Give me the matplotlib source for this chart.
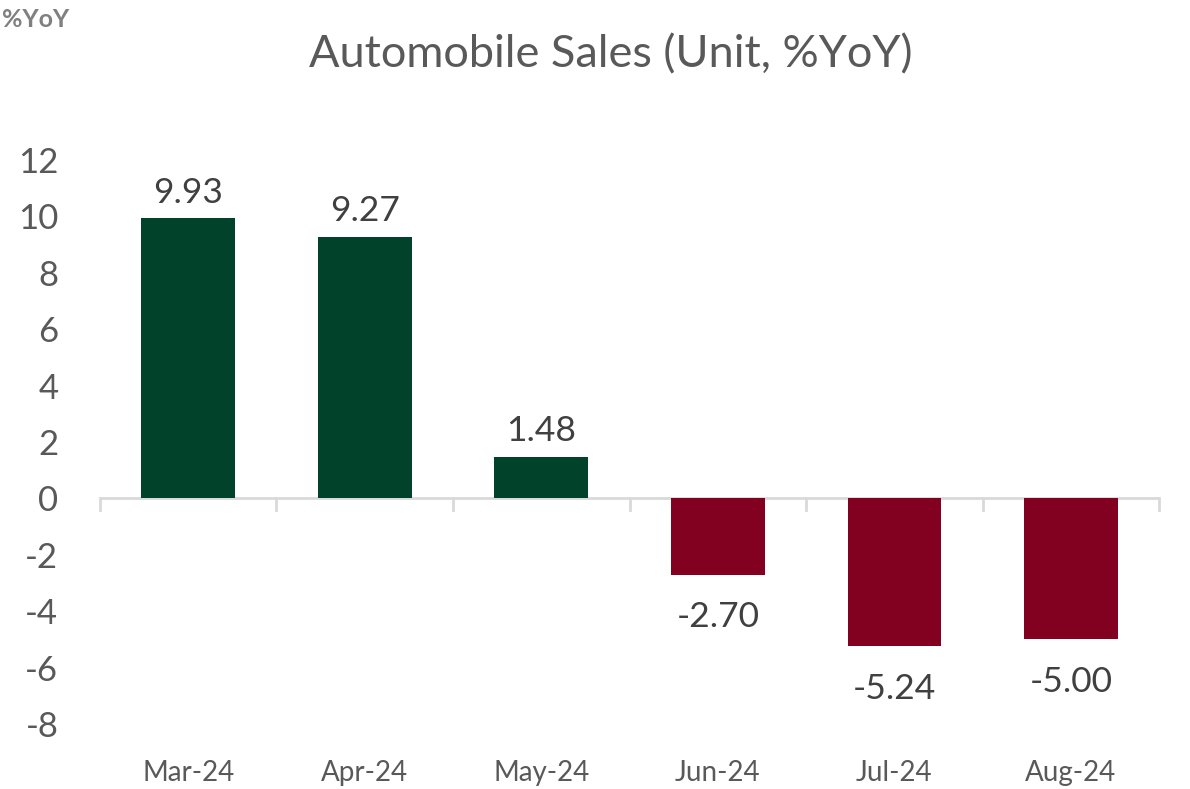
import matplotlib
matplotlib.use("Agg")
import matplotlib.pyplot as plt

# ข้อมูลยอดขายรถยนต์
months = ["Mar-24", "Apr-24", "May-24", "Jun-24", "Jul-24", "Aug-24"]
sales_yoy = [9.93, 9.27, 1.48, -2.70, -5.24, -5.00]

plt.rcParams['font.family'] = ['Lato', 'DejaVu Sans']
plt.rcParams['axes.unicode_minus'] = False

green = "#00432A"
red = "#820020"
colors = [green if v >= 0 else red for v in sales_yoy]

fig = plt.figure(figsize=(11.9, 7.89), dpi=100)
ax = fig.add_axes([0.084, 0.0824, 0.89, 0.7148])

x = list(range(len(months)))
bars = ax.bar(x, sales_yoy, width=0.53, color=colors, zorder=2)

# ป้ายค่าบนแท่ง
for xi, v in zip(x, sales_yoy):
    if v >= 0:
        ax.annotate(f"{v:.2f}", (xi, v), xytext=(0, 7), textcoords="offset points",
                    ha="center", va="bottom", fontsize=25.5, color="#404040")
    else:
        ax.annotate(f"{v:.2f}", (xi, v), xytext=(0, -19), textcoords="offset points",
                    ha="center", va="top", fontsize=25.5, color="#404040")

ax.set_xlim(-0.5, len(months) - 0.5)
ax.set_ylim(-8, 12)
ax.set_yticks(range(-8, 13, 2))
ax.tick_params(axis="y", length=0, labelsize=25, labelcolor="#595959", pad=30)
ax.set_xticks(x)
ax.set_xticklabels(months)
ax.tick_params(axis="x", length=0, labelsize=20, labelcolor="#595959", pad=26)

# เส้นศูนย์และขีดแบ่งหมวด
for s in ax.spines.values():
    s.set_visible(False)
ax.axhline(0, color="#d9d9d9", lw=2, zorder=1)
for b in range(len(months) + 1):
    ax.plot([b - 0.5, b - 0.5], [0, -0.42], color="#d9d9d9", lw=2, zorder=1, clip_on=False)

fig.text(0.513, 0.93, "Automobile Sales (Unit, %YoY)", ha="center", va="center",
         fontsize=32.5, color="#595959")
fig.text(0.002, 0.975, "%YoY", ha="left", va="center", fontsize=18,
         fontweight="bold", color="#808080")

fig.savefig("out.png", dpi=100)
